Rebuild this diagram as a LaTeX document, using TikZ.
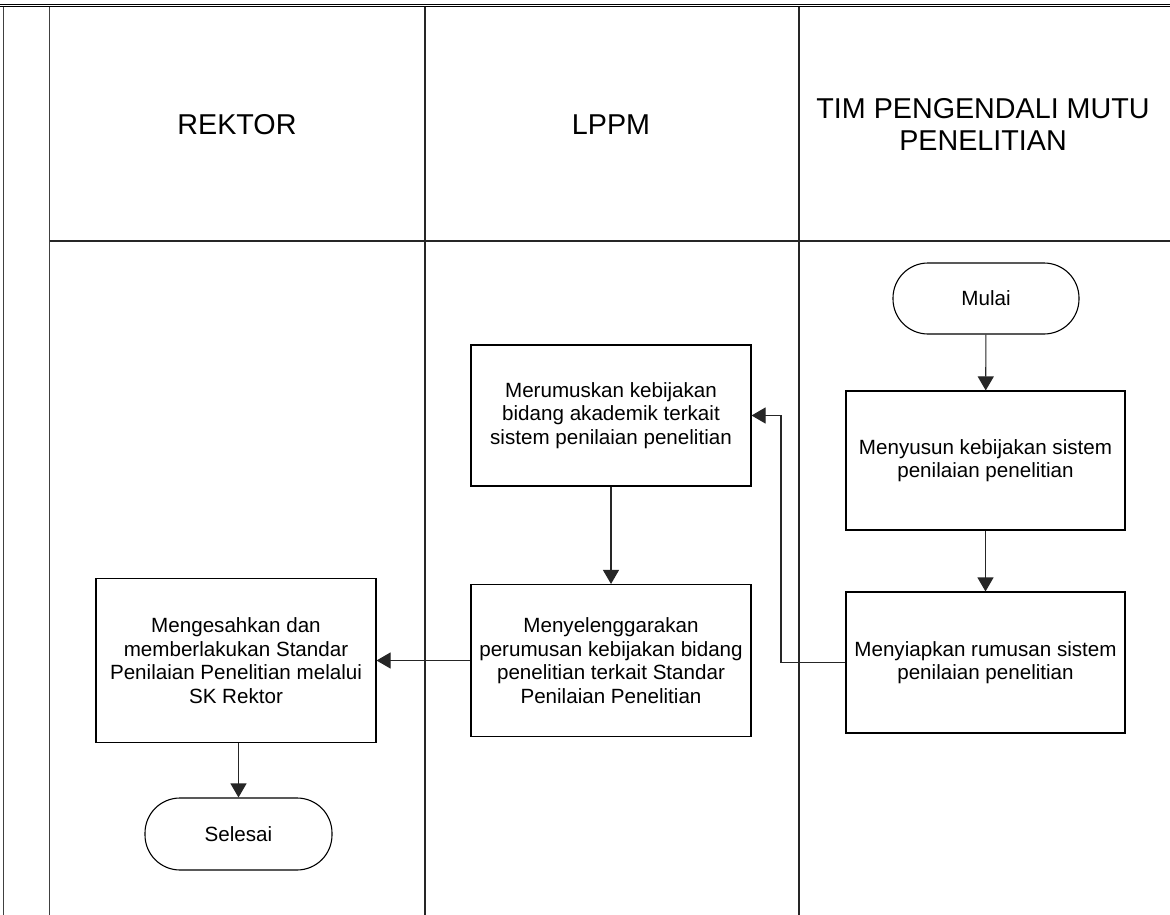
\documentclass[tikz,border=0pt]{standalone}
\usepackage{fontspec}
\newfontfamily\arialf{Liberation Sans}
\usetikzlibrary{arrows.meta}
\begin{document}
\begin{tikzpicture}[x=1pt,y=-1pt,
  lane/.style={line width=1.3pt, draw=black!85},
  frame/.style={line width=1.4pt, draw=black!75},
  proc/.style={draw=black, line width=1.1pt, rectangle, align=center, inner sep=0pt,
     font=\arialf\fontsize{20.6}{23.5}\selectfont, text=black},
  term/.style={draw=black, line width=1.1pt, rectangle, rounded corners=35pt, align=center, inner sep=0pt,
     font=\arialf\fontsize{20.6}{23.5}\selectfont, text=black},
  hdr/.style={align=center, inner sep=0pt, font=\arialf\fontsize{28.7}{32}\selectfont, text=black},
  arr/.style={line width=1.1pt, draw=black!85, -{Triangle[length=14pt,width=16pt]}}
]
\useasboundingbox (0,0) rectangle (1170,915);
\fill[white] (0,0) rectangle (1170,915);
% frame
\coordinate (tl1) at (0,4.2); \coordinate (tr1) at (1170,4.2);
\coordinate (tl2) at (0,6.8); \coordinate (tr2) at (1170,6.8);
\draw[line width=1.1pt] (tl1) -- (tr1);
\draw[line width=1.1pt] (tl2) -- (tr2);
\coordinate (lt) at (3.2,6.8); \coordinate (lb) at (3.2,915);
\draw[frame] (lt) -- (lb);
\coordinate (dt) at (49.5,6.8); \coordinate (db) at (49.5,915);
\draw[frame] (dt) -- (db);
% lanes
\coordinate (h1) at (49.5,241); \coordinate (h2) at (1170,241);
\draw[lane] (h1) -- (h2);
\coordinate (l1t) at (425,6.8); \coordinate (l1b) at (425,915);
\coordinate (l2t) at (799,6.8); \coordinate (l2b) at (799,915);
\draw[lane] (l1t) -- (l1b);
\draw[lane] (l2t) -- (l2b);
% headers
\node[hdr] (hrektor) at (237,125) {REKTOR};
\node[hdr] (hlppm) at (611,125) {LPPM};
\node[hdr] (htim) at (983,124) {TIM PENGENDALI MUTU\\PENELITIAN};
% nodes
\node[term, minimum width=186pt, minimum height=71pt] (mulai) at (986,298.5) {Mulai};
\node[proc, minimum width=279pt, minimum height=139pt] (susun) at (985.5,460.5) {Menyusun kebijakan sistem\\penilaian penelitian};
\node[proc, minimum width=279pt, minimum height=141pt] (siap) at (985.5,662.5) {Menyiapkan rumusan sistem\\penilaian penelitian};
\node[proc, minimum width=280pt, minimum height=141pt] (rumus) at (611,415.5) {Merumuskan kebijakan\\bidang akademik terkait\\sistem penilaian penelitian};
\node[proc, minimum width=280pt, minimum height=152pt] (lenggara) at (611,660.5) {Menyelenggarakan\\perumusan kebijakan bidang\\penelitian terkait Standar\\Penilaian Penelitian};
\node[proc, minimum width=280pt, minimum height=164pt] (sah) at (236,660.5) {Mengesahkan dan\\memberlakukan Standar\\Penilaian Penelitian melalui\\SK Rektor};
\node[term, minimum width=187pt, minimum height=72pt] (selesai) at (238.5,834) {Selesai};
% connectors
\draw[arr] (mulai) -- (susun);
\draw[arr] (susun) -- (siap);
\coordinate (bend) at (781,415.5);
\draw[arr] (siap.west) -| (bend) -- (rumus.east);
\draw[arr] (rumus) -- (lenggara);
\draw[arr] (lenggara.west) -- (sah.east);
\draw[arr] (sah.south -| selesai.north) -- (selesai.north);
\end{tikzpicture}
\end{document}
